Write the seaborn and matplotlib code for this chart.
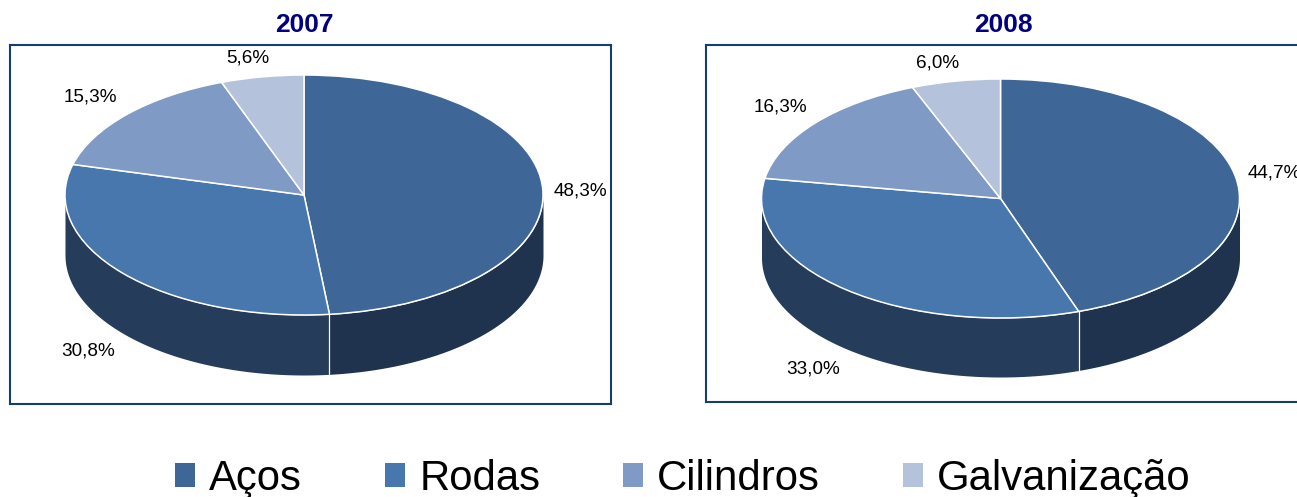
import numpy as np
import matplotlib
matplotlib.use("Agg")
import matplotlib.pyplot as plt
from matplotlib.patches import Patch
import seaborn as sns

categories = ["Aços", "Rodas", "Cilindros", "Galvanização"]
years = ["2007", "2008"]
values_2007 = [48.3, 30.8, 15.3, 5.6]
values_2008 = [44.7, 33.0, 16.3, 6.0]
label_text_2007 = ["48,3%", "30,8%", "15,3%", "5,6%"]
label_text_2008 = ["44,7%", "33,0%", "16,3%", "6,0%"]

W, H = 1297, 497
sns.set_theme(style="white")
plt.rcParams["font.family"] = ["Liberation Sans", "DejaVu Sans"]
top_colors = sns.color_palette(["#3e6696", "#4877ae", "#7e9ac5", "#b4c2dc"])
side_colors = sns.color_palette(["#1f334e", "#263c5b", "#3a5078", "#5a6a8a"])
frame_color = "#123f70"

fig = plt.figure(figsize=(W / 100, H / 100), dpi=100, facecolor="white")


def px_text(x, y, s, **kw):
    fig.text(x / W, 1 - y / H, s, ha="center", va="center", **kw)


def draw_pie(values, frame, center, rx, ry, depth):
    left, right, top, bottom = frame
    ax = fig.add_axes([left / W, 1 - bottom / H, (right - left) / W, (bottom - top) / H])
    ax.pie(values, colors=top_colors, startangle=90, counterclock=False,
           wedgeprops=dict(edgecolor="white", linewidth=1.1, zorder=3))
    ax.set_aspect("auto")
    ax.set_xlim((left - center[0]) / rx, (right - center[0]) / rx)
    ax.set_ylim((center[1] - bottom) / ry, (center[1] - top) / ry)
    h = depth / ry
    edges = np.cumsum([0] + list(values)) / np.sum(values) * 360
    for i in range(len(values)):
        a, b = max(edges[i], 90), min(edges[i + 1], 270)
        if b <= a:
            continue
        t = np.radians(np.linspace(a, b, 200))
        ax.fill_between(np.sin(t), np.cos(t) - h, np.cos(t), color=side_colors[i],
                        linewidth=0, zorder=1)
        if i > 0:
            s = np.radians(a)
            ax.plot([np.sin(s)] * 2, [np.cos(s) - h, np.cos(s)], color="white", lw=0.9, zorder=2)
    ax.set_frame_on(True)
    for sp in ax.spines.values():
        sp.set_visible(True)
        sp.set_color(frame_color)
        sp.set_linewidth(1.5)
    ax.set_xticks([])
    ax.set_yticks([])
    return ax


draw_pie(values_2007, (9.5, 611, 44.5, 404), (304, 195), 239, 120, 60)
draw_pie(values_2008, (705.5, 1310, 44.5, 402), (1000.5, 198.5), 239, 119.5, 59)

label_pos_2007 = [(580.5, 190.5), (88, 350.5), (90.5, 96.5), (247.5, 58.5)]
label_pos_2008 = [(1274.5, 172.5), (813, 368.5), (780, 107.5), (938, 62.5)]
for texts, positions in ((label_text_2007, label_pos_2007), (label_text_2008, label_pos_2008)):
    for s, (x, y) in zip(texts, positions):
        px_text(x, y, s, fontsize=13.6, color="black")

for yr, x in zip(years, (304, 1003)):
    px_text(x, 24.5, yr, fontsize=19, fontweight="bold", color="#000080")

handles = [Patch(facecolor=c, edgecolor="none", label=n) for c, n in zip(top_colors, categories)]
fig.legend(handles=handles, loc="center", bbox_to_anchor=(683 / W, 1 - 479 / H), ncol=4,
           frameon=False, fontsize=30.2, handlelength=0.48, handleheight=0.5,
           handletextpad=0.33, columnspacing=1.98, borderpad=0, borderaxespad=0,
           labelcolor="black")

fig.savefig("out.png", dpi=100, facecolor="white")
